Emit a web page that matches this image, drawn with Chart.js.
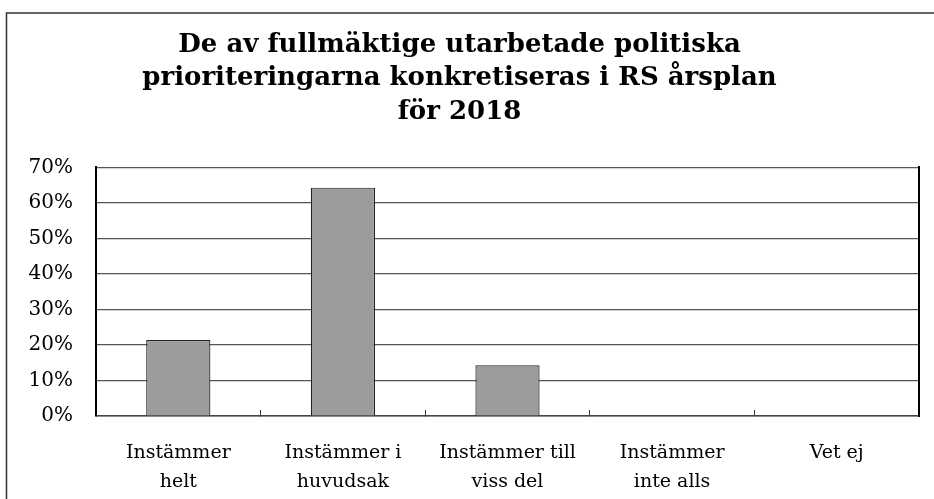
<!DOCTYPE html>
<html>
<head>
<meta charset="utf-8">
<script src="https://cdn.jsdelivr.net/npm/chart.js@4.4.1/dist/chart.umd.min.js"></script>
<style>
  html, body { margin: 0; padding: 0; background: #fff; }
  #wrap { width: 934px; height: 499px; position: relative; }
</style>
</head>
<body>
<div id="wrap"><canvas id="grafico" width="934" height="499"></canvas></div>
<script>
// svarsalternativ (kategorier)
const kategorier = [
    ["Instämmer", "helt"],
    ["Instämmer i", "huvudsak"],
    ["Instämmer till", "viss del"],
    ["Instämmer", "inte alls"],
    "Vet ej"
];
// andel svar i procent
const andelar = [21.4, 64.3, 14.3, 0, 0];
const titelRader = [
    "De av fullmäktige utarbetade politiska",
    "prioriteringarna konkretiseras i RS årsplan",
    "för 2018"
];
const yMax = 70;
const ySteg = 10;

// ram runt hela diagrammet (bara vänster och överkant syns)
const ramPlugin = {
    id: "ram",
    beforeDraw(chart) {
        const ctx = chart.ctx;
        ctx.save();
        ctx.strokeStyle = "#333";
        ctx.lineWidth = 1.5;
        ctx.beginPath();
        ctx.moveTo(6.5, chart.height);
        ctx.lineTo(6.5, 13);
        ctx.lineTo(chart.width, 13);
        ctx.stroke();
        ctx.restore();
    }
};

const serif = "'DejaVu Serif', 'Liberation Serif', serif";

new Chart(document.getElementById("grafico").getContext("2d"), {
    type: "bar",
    data: {
        labels: kategorier,
        datasets: [{
            label: "Andel",
            data: andelar,
            backgroundColor: "#9c9c9c",
            borderColor: "#222",
            borderWidth: 1.2,
            barPercentage: 0.39,
            categoryPercentage: 1
        }]
    },
    options: {
        responsive: false,
        animation: false,
        layout: { padding: { left: 0, right: 15, top: 0, bottom: 0 } },
        plugins: {
            legend: { display: false },
            tooltip: { enabled: false },
            title: {
                display: true,
                text: titelRader,
                color: "#000",
                font: { family: serif, size: 26, weight: "bold", lineHeight: 1.3 },
                padding: { top: 28, bottom: 38 }
            }
        },
        scales: {
            x: {
                afterFit(scale) { scale.height = 83; },
                grid: {
                    offset: true,
                    drawOnChartArea: false,
                    drawTicks: true,
                    tickLength: -6,
                    color: "#333",
                    lineWidth: 1
                },
                border: { color: "#444", width: 1.5 },
                ticks: {
                    color: "#000",
                    font: { family: serif, size: 19, lineHeight: 1.55 },
                    padding: 28,
                    maxRotation: 0,
                    autoSkip: false
                }
            },
            y: {
                min: 0,
                max: yMax,
                afterFit(scale) { scale.width = 96; },
                grid: { color: "#555", lineWidth: 1.2, drawTicks: false },
                border: { color: "#000", width: 2 },
                ticks: {
                    stepSize: ySteg,
                    color: "#000",
                    padding: 23,
                    font: { family: serif, size: 20 },
                    callback: v => v + "%"
                }
            },
            y2: {
                position: "right",
                min: 0,
                max: yMax,
                grid: { drawOnChartArea: false, drawTicks: false },
                border: { color: "#000", width: 2 },
                ticks: { display: false }
            }
        }
    },
    plugins: [ramPlugin]
});
</script>
</body>
</html>
